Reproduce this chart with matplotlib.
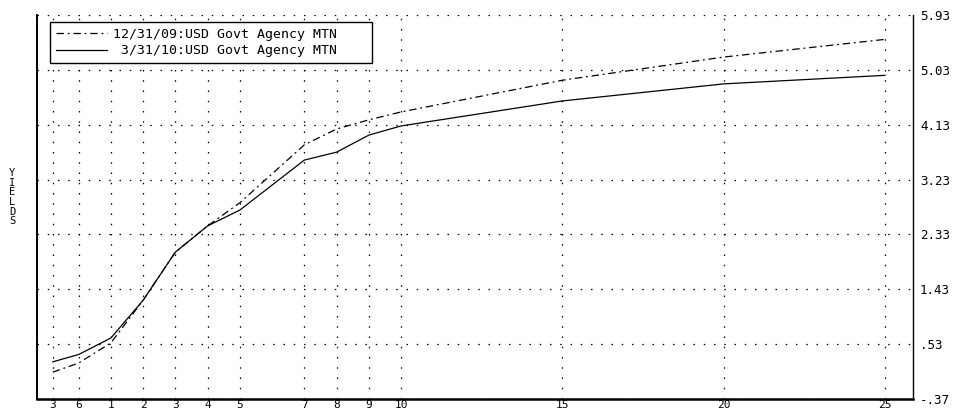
import matplotlib
matplotlib.use("Agg")
import matplotlib.pyplot as plt
from matplotlib.ticker import FixedLocator, FixedFormatter

# --- data ---
tenor_labels = ["3", "6", "1", "2", "3", "4", "5", "7", "8", "9", "10", "15", "20", "25"]
tenor_pos = [-0.8, 0, 1, 2, 3, 4, 5, 7, 8, 9, 10, 15, 20, 25]
series_dec09_name = "12/31/09:USD Govt Agency MTN"
series_mar10_name = " 3/31/10:USD Govt Agency MTN"
yields_dec09 = [0.07, 0.22, 0.55, 1.25, 2.04, 2.47, 2.85, 3.80, 4.06, 4.21, 4.34, 4.86, 5.24, 5.53]
yields_mar10 = [0.24, 0.36, 0.63, 1.25, 2.04, 2.47, 2.73, 3.55, 3.68, 3.96, 4.11, 4.52, 4.80, 4.94]
y_ticks = [-0.37, 0.53, 1.43, 2.33, 3.23, 4.13, 5.03, 5.93]
y_tick_labels = ["-.37", ".53", "1.43", "2.33", "3.23", "4.13", "5.03", "5.93"]
y_label = "YIELDS"

mono = "DejaVu Sans Mono"

fig = plt.figure(figsize=(9.71, 4.11), dpi=100)
ax = fig.add_axes([37/971, 12/411, (913-37)/971, (399-15)/411])

ax.set_xlim(-1.29, 25.87)
ax.set_ylim(-0.37, 5.93)

grid_style = dict(color="black", linewidth=0.9, linestyle=(0, (1.2, 7.0)))
for y in y_ticks:
    ax.axhline(y, **grid_style, zorder=1)
for x in tenor_pos:
    ax.axvline(x, **grid_style, zorder=1)

ax.plot(tenor_pos, yields_dec09, color="black", linewidth=0.9,
        dashes=(6, 3, 1.5, 3), label=series_dec09_name, zorder=3)
ax.plot(tenor_pos, yields_mar10, color="black", linewidth=0.9,
        label=series_mar10_name, zorder=3)

ax.xaxis.set_major_locator(FixedLocator(tenor_pos))
ax.xaxis.set_major_formatter(FixedFormatter(tenor_labels))
ax.yaxis.set_major_locator(FixedLocator(y_ticks))
ax.yaxis.set_major_formatter(FixedFormatter(y_tick_labels))
ax.yaxis.tick_right()
ax.tick_params(axis="both", length=0)
ax.tick_params(axis="x", pad=0.5, labelsize=8)
ax.tick_params(axis="y", pad=5, labelsize=9)
for lab in ax.get_xticklabels() + ax.get_yticklabels():
    lab.set_fontfamily(mono)

ax.spines["top"].set_visible(False)
ax.spines["bottom"].set_linewidth(1.8)
ax.spines["left"].set_linewidth(1.4)
ax.spines["right"].set_linewidth(1.0)

fig.text(12/971, 0.52, "\n".join(y_label), fontfamily=mono, fontsize=7.5,
         ha="center", va="center", linespacing=0.95)

leg = ax.legend(loc="upper left",
                bbox_to_anchor=(13/876, 1 - 47/384, (372-50)/876, 40/384),
                mode="expand",
                prop={"family": mono, "size": 9.5}, frameon=True, fancybox=False,
                edgecolor="black", framealpha=1, handlelength=3.9,
                handletextpad=0.4, borderpad=0.45, labelspacing=0.25,
                borderaxespad=0)
leg.get_frame().set_linewidth(1.0)
leg.set_zorder(5)

fig.savefig("out.png", dpi=100, facecolor="white")
